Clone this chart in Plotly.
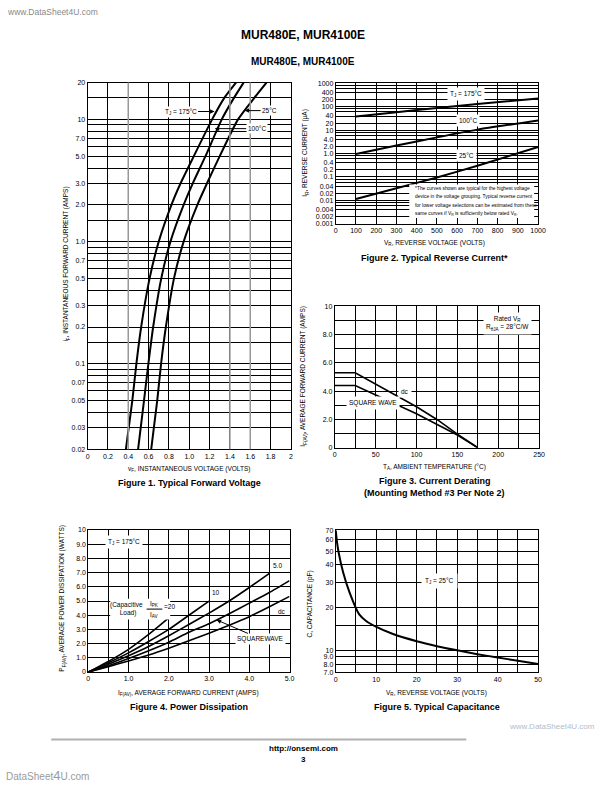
import math
import plotly.graph_objects as go

W, H = 612, 792
FONT = "Liberation Sans Narrow, Arial Narrow, Liberation Sans, Arial, Helvetica, sans-serif"
BFONT = "Liberation Sans, Arial, Helvetica, sans-serif"

# ---------------- Figure 1: Typical Forward Voltage ----------------
fig1_current = [0.02, 0.05, 0.1, 0.2, 0.5, 1.0, 2.0, 3.0, 5.0, 10, 15, 20]
fig1_vf_175 = [0.377, 0.440, 0.480, 0.527, 0.610, 0.700, 0.825, 0.915, 1.045, 1.225, 1.345, 1.460]
fig1_vf_100 = [0.497, 0.555, 0.598, 0.645, 0.725, 0.815, 0.945, 1.035, 1.160, 1.320, 1.440, 1.535]
fig1_vf_25 = [0.626, 0.685, 0.723, 0.770, 0.850, 0.945, 1.080, 1.175, 1.300, 1.480, 1.640, 1.760]
fig1_xticks = [0, 0.2, 0.4, 0.6, 0.8, 1.0, 1.2, 1.4, 1.6, 1.8, 2.0]
fig1_xlabels = ["0", "0.2", "0.4", "0.6", "0.8", "1.0", "1.2", "1.4", "1.6", "1.8", "2"]
fig1_ygrid = [0.02, 0.03, 0.04, 0.05, 0.06, 0.07, 0.08, 0.09,
              0.1, 0.15, 0.2, 0.3, 0.4, 0.5, 0.6, 0.7, 0.8, 0.9,
              1, 1.5, 2, 3, 4, 5, 6, 7, 8, 9, 10, 15, 20]
fig1_ylabels = ["0.02", "0.03", "", "0.05", "", "0.07", "", "",
                "0.1", "", "0.2", "0.3", "", "0.5", "", "0.7", "", "",
                "1.0", "", "2.0", "3.0", "", "5.0", "", "7.0", "", "", "10", "", "20"]

# ---------------- Figure 2: Typical Reverse Current ----------------
fig2_vr = [100, 300, 500, 700, 1000]
fig2_ir_175 = [38, 58, 88, 132, 225]
fig2_ir_100 = [0.95, 2.2, 4.9, 10.5, 26]
fig2_ir_25 = [0.0115, 0.033, 0.095, 0.30, 1.9]
fig2_xticks = [0, 100, 200, 300, 400, 500, 600, 700, 800, 900, 1000]
fig2_ygrid = [0.001, 0.002, 0.004, 0.006, 0.008, 0.01, 0.02, 0.04, 0.06, 0.08,
              0.1, 0.2, 0.4, 0.6, 0.8, 1, 2, 4, 6, 8, 10, 20, 40, 60, 80,
              100, 200, 400, 600, 800, 1000]
fig2_ylabels = ["0.001", "0.002", "0.004", "", "", "0.01", "0.02", "0.04", "", "",
                "0.1", "0.2", "0.4", "", "", "1.0", "2.0", "4.0", "", "", "10", "20", "40", "", "",
                "100", "200", "400", "", "", "1000"]

# ---------------- Figure 3: Current Derating ----------------
fig3_ta = [0, 25, 100, 125, 150, 175]
fig3_dc = [5.3, 5.3, 2.9, 2.0, 0.96, 0]
fig3_square = [4.4, 4.4, 2.4, 1.66, 0.9, 0]
fig3_xgrid = [0, 25, 50, 75, 100, 125, 150, 175, 200, 225, 250]
fig3_xlabels = ["0", "", "50", "", "100", "", "150", "", "200", "", "250"]
fig3_ygrid = [0, 1, 2, 3, 4, 5, 6, 7, 8, 9, 10]
fig3_ylabels = ["0", "", "2.0", "", "4.0", "", "6.0", "", "8.0", "", "10"]

# ---------------- Figure 4: Power Dissipation ----------------
fig4_i_dc = [0, 0.5, 1.0, 1.5, 2.0, 2.5, 3.0, 3.5, 4.0, 4.5, 5.0]
fig4_p_dc = [0, 0.38, 0.78, 1.20, 1.68, 2.20, 2.74, 3.30, 3.90, 4.60, 5.33]
fig4_i_sq = [0, 0.5, 1.0, 1.5, 2.0, 2.5, 3.0, 3.5, 4.0, 4.5, 5.0]
fig4_p_sq = [0, 0.45, 0.95, 1.50, 2.10, 2.80, 3.40, 4.10, 4.85, 5.60, 6.44]
fig4_i_5 = [0, 0.5, 1.0, 1.5, 2.0, 2.5, 3.0, 3.5, 4.0, 4.5]
fig4_p_5 = [0, 0.55, 1.15, 1.80, 2.55, 3.35, 4.15, 5.00, 5.95, 6.95]
fig4_i_10 = [0, 0.5, 1.0, 1.5, 2.0, 2.5, 3.0]
fig4_p_10 = [0, 0.65, 1.35, 2.15, 3.00, 4.00, 5.00]
fig4_i_20 = [0, 0.5, 1.0, 1.5, 2.0]
fig4_p_20 = [0, 0.75, 1.60, 2.65, 3.82]
fig4_xgrid = [0, 0.5, 1.0, 1.5, 2.0, 2.5, 3.0, 3.5, 4.0, 4.5, 5.0]
fig4_xlabels = ["0", "", "1.0", "", "2.0", "", "3.0", "", "4.0", "", "5.0"]
fig4_ygrid = [0, 1, 2, 3, 4, 5, 6, 7, 8, 9, 10]
fig4_ylabels = ["0", "1.0", "2.0", "3.0", "4.0", "5.0", "6.0", "7.0", "8.0", "9.0", "10"]

# ---------------- Figure 5: Typical Capacitance ----------------
fig5_vr = [0, 0.3, 0.7, 1.8, 3.4, 5.8, 7.5, 9.9, 14, 20, 25, 30, 35, 40, 45, 50]
fig5_c = [70, 58, 49, 35.6, 25.6, 17.9, 16.1, 14.7, 13.1, 11.6, 10.7, 10.0, 9.4, 8.9, 8.45, 8.0]
fig5_xgrid = [0, 5, 10, 15, 20, 25, 30, 35, 40, 45, 50]
fig5_xlabels = ["0", "", "10", "", "20", "", "30", "", "40", "", "50"]
fig5_ygrid = [7, 8, 9, 10, 15, 20, 30, 40, 50, 60, 70]
fig5_ylabels = ["7.0", "8.0", "9.0", "10", "", "20", "30", "40", "50", "60", "70"]


def px(x):
    return x / W


def py(y):
    return 1 - y / H


def axis(domain, anchor, vals, labels, rng, typ="linear"):
    return dict(domain=domain, anchor=anchor, range=rng, type=typ,
                tickmode="array", tickvals=vals, ticktext=labels,
                showgrid=True, gridcolor="black", gridwidth=1,
                showline=True, linecolor="black", linewidth=1, mirror=True,
                zeroline=False, ticks="", fixedrange=True,
                tickfont=dict(size=7, family=FONT, color="black"))


fig = go.Figure()

LINE = dict(color="black", width=2, shape="spline", smoothing=0.6)

for vf in (fig1_vf_175, fig1_vf_100, fig1_vf_25):
    fig.add_trace(go.Scatter(x=vf, y=fig1_current, xaxis="x", yaxis="y", mode="lines", line=LINE))
for ir in (fig2_ir_175, fig2_ir_100, fig2_ir_25):
    fig.add_trace(go.Scatter(x=fig2_vr, y=ir, xaxis="x2", yaxis="y2", mode="lines",
                             line=dict(color="black", width=2, shape="spline", smoothing=0.5)))
for iv in (fig3_dc, fig3_square):
    fig.add_trace(go.Scatter(x=fig3_ta, y=iv, xaxis="x3", yaxis="y3", mode="lines",
                             line=dict(color="black", width=1.6)))
for xi, yp in ((fig4_i_dc, fig4_p_dc), (fig4_i_sq, fig4_p_sq), (fig4_i_5, fig4_p_5),
               (fig4_i_10, fig4_p_10), (fig4_i_20, fig4_p_20)):
    fig.add_trace(go.Scatter(x=xi, y=yp, xaxis="x4", yaxis="y4", mode="lines",
                             line=dict(color="black", width=1.6, shape="spline", smoothing=0.5)))
fig.add_trace(go.Scatter(x=fig5_vr, y=fig5_c, xaxis="x5", yaxis="y5", mode="lines",
                         line=dict(color="black", width=2, shape="spline", smoothing=0.6)))

fig.update_layout(
    width=W, height=H, margin=dict(l=0, r=0, t=0, b=0),
    paper_bgcolor="white", plot_bgcolor="white", showlegend=False,
    font=dict(family=FONT, color="black"),
    xaxis=axis([px(87), px(293.7)], "y", fig1_xticks, fig1_xlabels, [0, 2]),
    yaxis=axis([py(449.2), py(79.3)], "x", fig1_ygrid, fig1_ylabels,
               [math.log10(0.02), math.log10(20)], "log"),
    xaxis2=axis([px(339.3), px(545)], "y2", fig2_xticks, [str(v) for v in fig2_xticks], [0, 1000]),
    yaxis2=axis([py(221.7), py(80)], "x2", fig2_ygrid, fig2_ylabels, [-3, 3], "log"),
    xaxis3=axis([px(338.3), px(546)], "y3", fig3_xgrid, fig3_xlabels, [0, 250]),
    yaxis3=axis([py(447.7), py(305)], "x3", fig3_ygrid, fig3_ylabels, [0, 10]),
    xaxis4=axis([px(87.7), px(292.3)], "y4", fig4_xgrid, fig4_xlabels, [0, 5]),
    yaxis4=axis([py(674), py(530.7)], "x4", fig4_ygrid, fig4_ylabels, [0, 10]),
    xaxis5=axis([px(339.3), px(545)], "y5", fig5_xgrid, fig5_xlabels, [0, 50]),
    yaxis5=axis([py(674.3), py(531)], "x5", fig5_ygrid, fig5_ylabels, [math.log10(7), math.log10(70)], "log"),
)

shapes = []
# lighter (scanned) vertical grid lines in Figure 1, drawn in paper space
x0p, x1p = 87.0, 293.7
for gx in (0.4, 1.4, 1.6):
    xp = x0p + (x1p - x0p) * gx / 2.0
    shapes.append(dict(type="line", xref="paper", yref="paper", x0=px(xp), x1=px(xp),
                       y0=py(449.2), y1=py(79.3), line=dict(color="#9a9a9a", width=1.5)))
# note box in Figure 2
shapes.append(dict(type="rect", xref="paper", yref="paper", x0=px(414), x1=px(541),
                   y0=py(216), y1=py(182), fillcolor="white", line=dict(width=0), layer="above"))
# Figure 4 capacitive load box + fraction bar
shapes.append(dict(type="rect", xref="paper", yref="paper", x0=px(110), x1=px(171),
                   y0=py(621), y1=py(600), fillcolor="white", line=dict(width=0), layer="above"))
shapes.append(dict(type="line", xref="paper", yref="paper", x0=px(147), x1=px(163),
                   y0=py(610.5), y1=py(610.5), line=dict(color="black", width=1), layer="above"))
# footer rule
shapes.append(dict(type="line", xref="paper", yref="paper", x0=px(50), x1=px(472),
                   y0=py(742), y1=py(742), line=dict(color="#b0b0b0", width=2)))
fig.update_layout(shapes=shapes)

ann = []


def text(t, x, y, size=7, bold=False, bg=None, angle=0, xanchor="center", color="black",
         family=None, pad=1):
    d = dict(text=("<b>%s</b>" % t) if bold else t, xref="paper", yref="paper",
             x=px(x), y=py(y), showarrow=False, xanchor=xanchor, yanchor="middle",
             textangle=angle, borderpad=pad,
             font=dict(size=size, color=color, family=family or (BFONT if bold else FONT)))
    if bg:
        d["bgcolor"] = bg
    ann.append(d)


def arrow(t, xr, yr, x, y, axp, ayp, size=6.5, bg="white"):
    ann.append(dict(text=t, xref=xr, yref=yr, x=x, y=y, ax=axp, ay=ayp, showarrow=True,
                    arrowhead=2, arrowsize=0.9, arrowwidth=1, arrowcolor="black",
                    bgcolor=bg, borderpad=1, font=dict(size=size, family=FONT, color="black")))


# page header / footer
text("www.DataSheet4U.com", 3, 8, size=8.5, color="#8a8a8a", xanchor="left", family=BFONT)
text("MUR480E, MUR4100E", 306, 31, size=12, bold=True)
text("MUR480E, MUR4100E", 306, 58, size=10, bold=True)
text("http://onsemi.com", 306, 751, size=8, bold=True)
text("3", 306, 762, size=8, bold=True)
text("www.DataSheet4U.com", 605, 729, size=8, color="#b4bccc", xanchor="right", family=BFONT)
text("DataSheet<span style='font-size:13px'>4</span>U.com", 2, 778, size=10, color="#9a9a9a",
     xanchor="left", family=BFONT)

# Figure 1 texts
text("i<sub>F</sub>, INSTANTANEOUS FORWARD CURRENT (AMPS)", 65, 262, size=6.5, angle=-90)
text("v<sub>F</sub>, INSTANTANEOUS VOLTAGE (VOLTS)", 190, 469, size=6.5)
text("Figure 1. Typical Forward Voltage", 191, 483, size=9, bold=True)
arrow("T<sub>J</sub> = 175°C", "x", "y", 1.249, math.log10(11.6), -34, 0)
arrow("25°C", "x", "y", 1.545, math.log10(11.8), 25, 0)
arrow("100°C", "x", "y", 1.250, math.log10(8.4), 42, 0)

# Figure 2 texts
text("I<sub>R</sub>, REVERSE CURRENT (μA)", 308, 150, size=6.5, angle=-90)
text("V<sub>R</sub>, REVERSE VOLTAGE (VOLTS)", 440, 241, size=6.5)
text("Figure 2. Typical Reverse Current*", 440, 256, size=9, bold=True)
text("T<sub>J</sub> = 175°C", 472, 91, size=6.5, bg="white", pad=2)
text("100°C", 474, 118, size=6.5, bg="white", pad=2)
text("25°C", 472, 153, size=6.5, bg="white", pad=2)
note_lines = ["*The curves shown are typical for the highest voltage",
              "device in the voltage grouping. Typical reverse current",
              "for lower voltage selections can be estimated from these",
              "same curves if V<sub>R</sub> is sufficiently below rated V<sub>R</sub>."]
for i, ln in enumerate(note_lines):
    text(ln, 418, 186 + i * 8.7, size=4.9, xanchor="left", family=BFONT)

# Figure 3 texts
text("I<sub>F(AV)</sub>, AVERAGE FORWARD CURRENT (AMPS)", 306, 376, size=6.5, angle=-90)
text("T<sub>A</sub>, AMBIENT TEMPERATURE (°C)", 440, 467, size=6.5)
text("Figure 3. Current Derating", 440, 481, size=9, bold=True)
text("(Mounting Method #3 Per Note 2)", 440, 493, size=9, bold=True)
text("Rated V<sub>R</sub><br>R<sub>θJA</sub> = 28°C/W", 514, 322, size=6.5, bg="white", pad=2)
text("dc", 410, 391, size=6.5, bg="white", pad=2)
text("SQUARE WAVE", 377, 403, size=6.5, bg="white", pad=2)

# Figure 4 texts
text("P<sub>F(AV)</sub>, AVERAGE POWER DISSIPATION (WATTS)", 61, 600, size=6.5, angle=-90)
text("I<sub>F(AV)</sub>, AVERAGE FORWARD CURRENT (AMPS)", 190, 695, size=6.5)
text("Figure 4. Power Dissipation", 190, 709, size=9, bold=True)
text("T<sub>J</sub> = 175°C", 124, 543, size=6.5, bg="white", pad=2)
text("5.0", 280, 567, size=6.5)
text("10", 218, 594, size=6.5)
text("(Capacitive<br>  Load)", 127, 610, size=6.5)
text("I<sub>PK</sub>", 155, 605, size=6.5)
text("I<sub>AV</sub>", 155, 616, size=6.5)
text("=20", 163, 608, size=6.5, xanchor="left")
text("dc", 285, 613, size=6.5)
arrow("SQUAREWAVE", "x4", "y4", 3.19, 3.67, 44, 19)

# Figure 5 texts
text("C, CAPACITANCE (pF)", 313, 605, size=6.5, angle=-90)
text("V<sub>R</sub>, REVERSE VOLTAGE (VOLTS)", 442, 695, size=6.5)
text("Figure 5. Typical Capacitance", 442, 709, size=9, bold=True)
text("T<sub>J</sub> = 25°C", 445, 582, size=6.5, bg="white", pad=3)

fig.update_layout(annotations=ann)
fig.write_html("out.html", config={"displayModeBar": False, "staticPlot": True},
               post_script="document.body.style.margin='0px';document.body.style.padding='0px';"
                           "document.body.style.overflow='hidden';")
